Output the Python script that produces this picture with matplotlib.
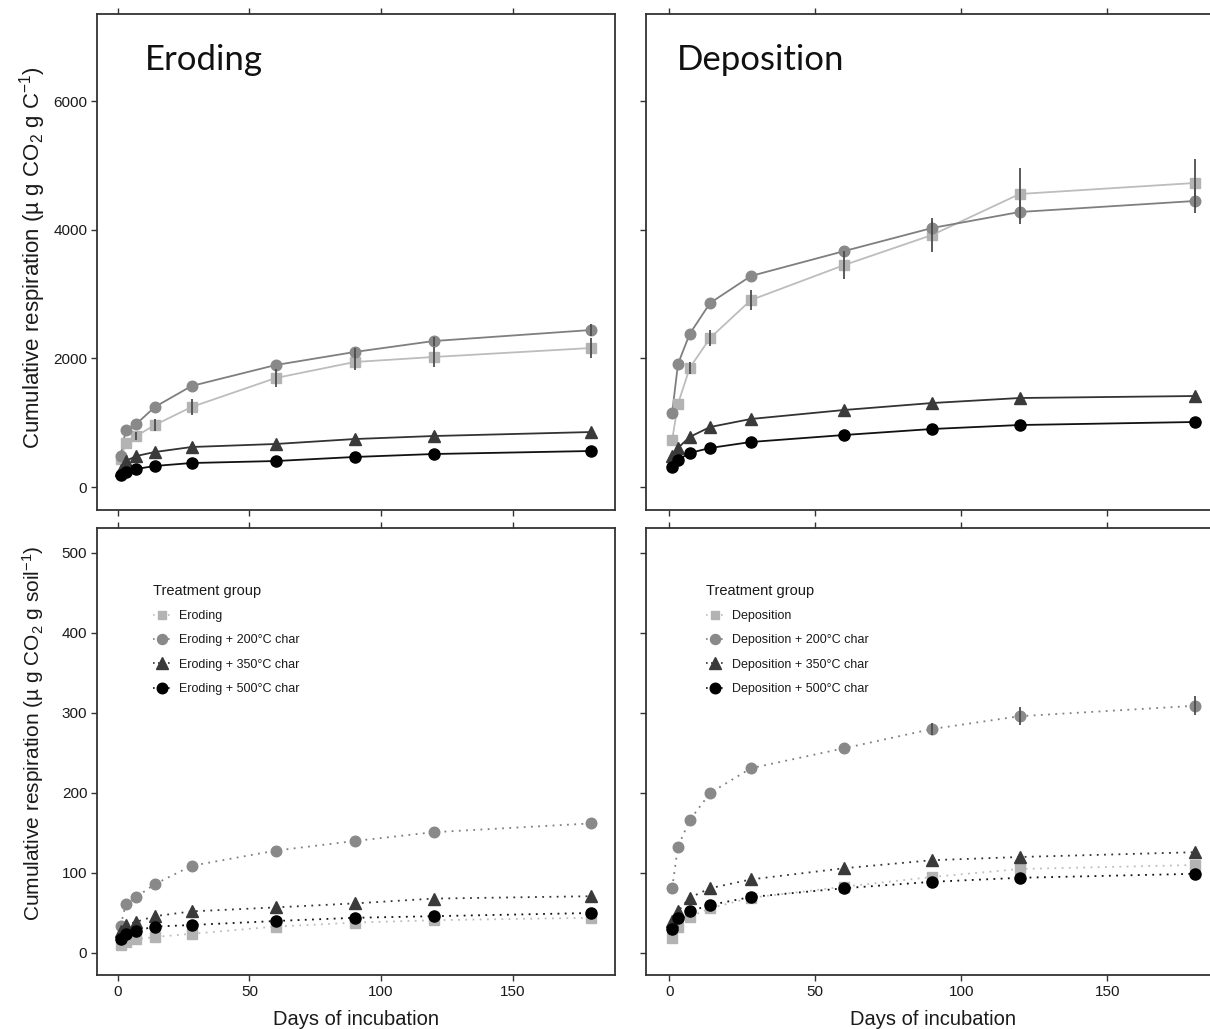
import matplotlib
matplotlib.use('Agg')
import matplotlib.pyplot as plt
from matplotlib.lines import Line2D

plt.rcParams['font.family'] = ['Liberation Sans', 'DejaVu Sans']
plt.rcParams['mathtext.fontset'] = 'custom'
plt.rcParams['mathtext.rm'] = 'Liberation Sans'
plt.rcParams['mathtext.it'] = 'Liberation Sans:italic'
plt.rcParams['mathtext.bf'] = 'Liberation Sans:bold'

# ---------------- data ----------------
days = [1, 3, 7, 14, 28, 60, 90, 120, 180]

# Eroding, per g C
er_c_sq = [430, 684, 793, 964, 1244, 1695, 1944, 2022, 2162]
er_c_200 = [482, 886, 980, 1244, 1571, 1897, 2100, 2270, 2442]
er_c_350 = [264, 404, 482, 544, 622, 669, 746, 793, 855]
er_c_500 = [187, 233, 280, 327, 373, 404, 467, 513, 560]
er_c_sq_err = [0, 0, 60, 90, 120, 140, 120, 150, 150]
er_c_200_err = [0, 0, 0, 0, 0, 0, 60, 70, 90]
er_c_350_err = [0, 0, 0, 0, 0, 0, 0, 0, 0]
er_c_500_err = [0, 0, 0, 0, 0, 0, 0, 0, 0]

# Deposition, per g C
de_c_sq = [731, 1291, 1851, 2317, 2908, 3453, 3919, 4557, 4728]
de_c_200 = [1151, 1913, 2379, 2862, 3282, 3670, 4028, 4277, 4448]
de_c_350 = [480, 607, 778, 933, 1058, 1198, 1306, 1384, 1415]
de_c_500 = [311, 420, 529, 607, 700, 809, 902, 964, 1011]
de_c_sq_err = [0, 0, 90, 120, 160, 220, 260, 400, 370]
de_c_200_err = [0, 0, 0, 0, 0, 0, 110, 180, 190]
de_c_350_err = [0, 0, 0, 0, 0, 0, 0, 0, 0]
de_c_500_err = [0, 0, 0, 0, 0, 0, 0, 0, 0]

# Eroding, per g soil
er_s_sq = [10, 14, 17, 20, 24, 33, 38, 41, 44]
er_s_200 = [34, 61, 70, 86, 109, 128, 140, 151, 162]
er_s_350 = [28, 35, 39, 46, 52, 57, 62, 68, 71]
er_s_500 = [17, 24, 28, 33, 35, 40, 44, 46, 50]
er_s_sq_err = [0, 0, 0, 0, 0, 0, 0, 0, 0]
er_s_200_err = [0, 0, 0, 0, 0, 0, 0, 0, 0]
er_s_350_err = [0, 0, 0, 0, 0, 0, 0, 0, 0]
er_s_500_err = [0, 0, 0, 0, 0, 0, 0, 0, 0]

# Deposition, per g soil
de_s_sq = [19, 33, 45, 56, 69, 83, 95, 105, 110]
de_s_200 = [81, 133, 166, 200, 231, 256, 280, 296, 309]
de_s_350 = [40, 52, 69, 81, 92, 106, 116, 120, 126]
de_s_500 = [30, 44, 52, 60, 70, 81, 89, 94, 99]
de_s_sq_err = [0, 0, 0, 0, 0, 0, 0, 0, 0]
de_s_200_err = [0, 0, 0, 0, 0, 0, 8, 11, 12]
de_s_350_err = [0, 0, 0, 0, 0, 0, 0, 0, 0]
de_s_500_err = [0, 0, 0, 0, 0, 0, 0, 0, 0]

x_ticks = [0, 50, 100, 150]
top_y_ticks = [0, 2000, 4000, 6000]
bot_y_ticks = [0, 100, 200, 300, 400, 500]

eroding_labels = ['Eroding', 'Eroding + 200°C char', 'Eroding + 350°C char', 'Eroding + 500°C char']
deposition_labels = ['Deposition', 'Deposition + 200°C char', 'Deposition + 350°C char', 'Deposition + 500°C char']

# ---------------- styles ----------------
styles = [
    dict(marker='s', mfc='#b3b3b3', lc='#bdbdbd', ms=6.8),
    dict(marker='o', mfc='#898989', lc='#7f7f7f', ms=7.6),
    dict(marker='^', mfc='#3a3a3a', lc='#333333', ms=8.6),
    dict(marker='o', mfc='#000000', lc='#111111', ms=8.0),
]
ERR_COLOR = '#4d4d4d'
SPINE = '#333333'
TXT = '#1a1a1a'

W, H = 1210, 1029
fig = plt.figure(figsize=(W / 100, H / 100), dpi=100)


def rect(x0, x1, y0, y1):
    return [x0 / W, 1 - y1 / H, (x1 - x0) / W, (y1 - y0) / H]


TOP_Y0, TOP_Y1 = 14, 510
BOT_Y0, BOT_Y1 = 528, 975
ax_tl = fig.add_axes(rect(97, 615, TOP_Y0, TOP_Y1))
ax_tr = fig.add_axes(rect(646, 1221, TOP_Y0, TOP_Y1))
ax_bl = fig.add_axes(rect(97, 615, BOT_Y0, BOT_Y1))
ax_br = fig.add_axes(rect(646, 1221, BOT_Y0, BOT_Y1))


def draw(ax, series, errs, dotted):
    ls = (0, (1, 3)) if dotted else '-'
    lw = 1.3
    for y, st in zip(series, styles):
        ax.plot(days, y, linestyle=ls, color=st['lc'], lw=lw, zorder=2)
    for y, st in zip(series, styles):
        ax.plot(days, y, linestyle='none', marker=st['marker'], ms=st['ms'],
                mfc=st['mfc'], mec=st['mfc'], zorder=3)
    for y, e in zip(series, errs):
        if any(e):
            ax.errorbar(days, y, yerr=e, fmt='none', ecolor=ERR_COLOR, elinewidth=1.3,
                        capsize=0, zorder=4)


draw(ax_tl, [er_c_sq, er_c_200, er_c_350, er_c_500],
     [er_c_sq_err, er_c_200_err, er_c_350_err, er_c_500_err], False)
draw(ax_tr, [de_c_sq, de_c_200, de_c_350, de_c_500],
     [de_c_sq_err, de_c_200_err, de_c_350_err, de_c_500_err], False)
draw(ax_bl, [er_s_sq, er_s_200, er_s_350, er_s_500],
     [er_s_sq_err, er_s_200_err, er_s_350_err, er_s_500_err], True)
draw(ax_br, [de_s_sq, de_s_200, de_s_350, de_s_500],
     [de_s_sq_err, de_s_200_err, de_s_350_err, de_s_500_err], True)

for ax in (ax_tl, ax_tr, ax_bl, ax_br):
    ax.set_xlim(-7.95, 188.95)
    ax.set_xticks(x_ticks)
    for s in ax.spines.values():
        s.set_color(SPINE)
        s.set_linewidth(1.3)
    ax.tick_params(direction='out', length=4, width=1, color=SPINE,
                   labelsize=11, labelcolor=TXT, top=True, pad=3)

# y = 0 sits at pixel 487 (top) and 953 (bottom)
for ax in (ax_tl, ax_tr):
    ax.set_ylim(-(TOP_Y1 - 487) / 0.0643, (487 - TOP_Y0) / 0.0643)
    ax.set_yticks(top_y_ticks)
    ax.tick_params(labelbottom=False)
for ax in (ax_bl, ax_br):
    ax.set_ylim(-(BOT_Y1 - 953) / 0.8, (953 - BOT_Y0) / 0.8)
    ax.set_yticks(bot_y_ticks)
    ax.set_xlabel('Days of incubation', fontsize=14.5, color=TXT, labelpad=8)
for ax in (ax_tr, ax_br):
    ax.tick_params(labelleft=False)

fig.text(33 / W, 1 - 258 / H, 'Cumulative respiration (µ g CO$_2$ g C$^{-1}$)',
         rotation=90, ha='center', va='center', fontsize=16, color=TXT)
fig.text(33 / W, 1 - 733 / H, 'Cumulative respiration (µ g CO$_2$ g soil$^{-1}$)',
         rotation=90, ha='center', va='center', fontsize=15, color=TXT)

fig.text(145 / W, 1 - 70 / H, 'Eroding', fontsize=25, family='Lato', va='baseline', color='#111111')
fig.text(677 / W, 1 - 70 / H, 'Deposition', fontsize=25, family='Lato', va='baseline', color='#111111')


def make_legend(ax, labels, x_px, y_px):
    handles = [Line2D([], [], linestyle=(0, (1, 2)), color=st['lc'], lw=1.2,
                      marker=st['marker'], ms=st['ms'] * 0.95, mfc=st['mfc'], mec=st['mfc'])
               for st in styles]
    leg = ax.legend(handles, labels, title='Treatment group', loc='upper left',
                    bbox_to_anchor=(x_px / W, 1 - y_px / H), bbox_transform=fig.transFigure,
                    frameon=False, fontsize=9, title_fontsize=10.5, handlelength=1.5,
                    handletextpad=0.6, labelspacing=0.98, borderpad=0, borderaxespad=0,
                    alignment='left')
    for t in leg.get_texts():
        t.set_color(TXT)
    leg.get_title().set_color(TXT)


make_legend(ax_bl, eroding_labels, 153, 584)
make_legend(ax_br, deposition_labels, 706, 584)

fig.savefig('out.png', dpi=100)
